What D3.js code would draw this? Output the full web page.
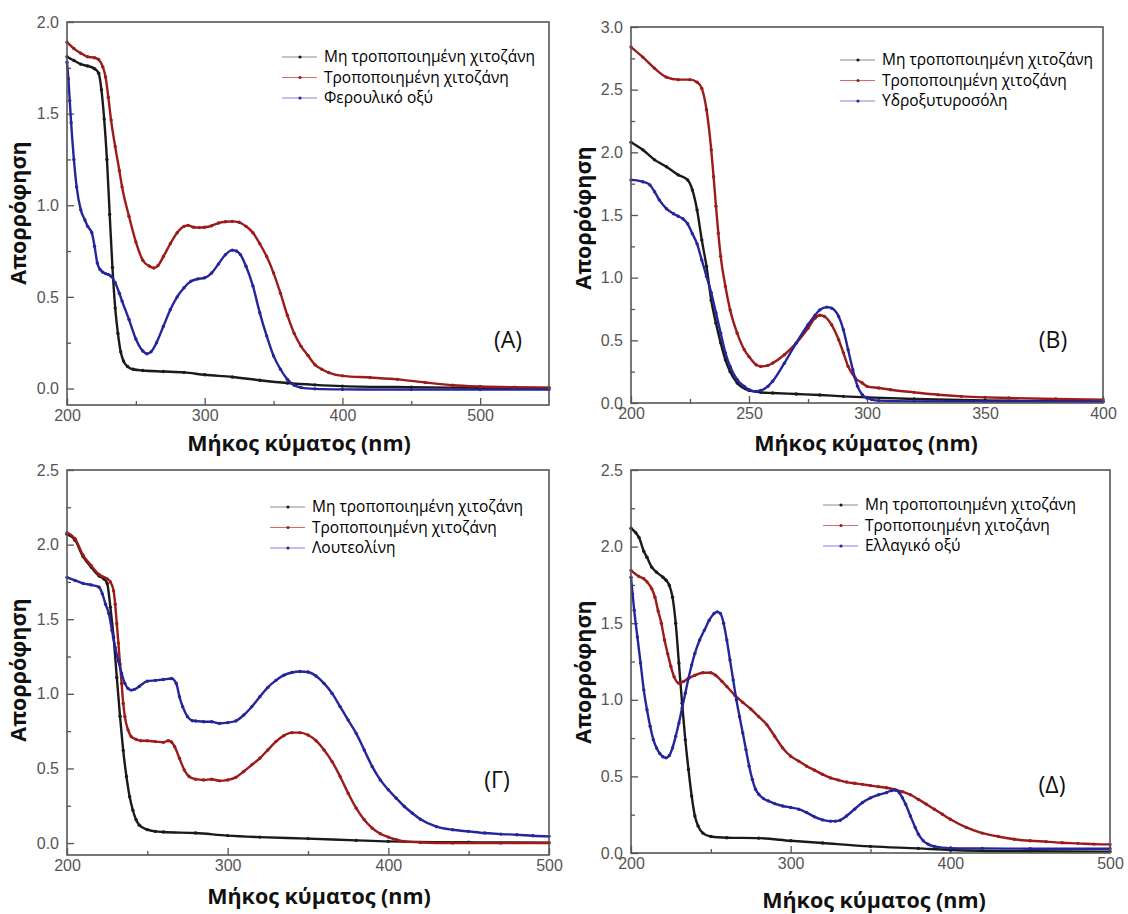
<!DOCTYPE html>
<html>
<head>
<meta charset="utf-8">
<script src="https://cdn.jsdelivr.net/npm/d3@7"></script>
<style>
  body { margin: 0; background: #fff; }
  svg text { font-family: "Liberation Sans", Arial, sans-serif; }
  .tick text { fill: #555; font-size: 16px; }
  .tick line { stroke: #555; stroke-width: 1.3; }
  .title { font-family: "Open Sans", sans-serif !important; font-weight: bold; font-size: 21.5px; fill: #111; }
  .legend text { font-family: "Open Sans", sans-serif !important; font-size: 15.5px; fill: #000; }
  .letter { font-family: "Open Sans", sans-serif !important; font-size: 23px; fill: #111; }
</style>
</head>
<body>
<div id="chart"></div>
<script>
// UV-Vis absorption spectra, 4 panels (A, B, Γ, Δ)
// each series is [wavelength nm, absorbance]

var seriesNames = ["Μη τροποποιημένη χιτοζάνη", "Τροποποιημένη χιτοζάνη"];
var compoundNames = ["Φερουλικό οξύ", "Υδροξυτυροσόλη", "Λουτεολίνη", "Ελλαγικό οξύ"];
var panelLetters = ["(A)", "(B)", "(Γ)", "(Δ)"];
var xTitle = "Μήκος κύματος (nm)";
var yTitle = "Απορρόφηση";

// Panel A
var aBlack = [[200,1.81],[205,1.79],[210,1.77],[215,1.76],[220,1.745],[223,1.72],[225,1.63],[227,1.47],[229,1.25],[231,0.95],[233,0.66],[235,0.44],[237,0.30],[239,0.20],[241,0.15],[244,0.12],[248,0.105],[255,0.098],[270,0.093],[285,0.088],[300,0.075],[320,0.063],[340,0.045],[360,0.03],[380,0.02],[400,0.013],[450,0.007],[500,0.004],[550,0.003]];
var aRed = [[200,1.89],[205,1.855],[210,1.83],[215,1.81],[220,1.805],[223,1.795],[226,1.755],[228,1.70],[230,1.59],[232,1.465],[235,1.32],[238,1.19],[240,1.10],[245,0.94],[250,0.80],[255,0.70],[260,0.667],[263,0.658],[266,0.67],[270,0.72],[275,0.79],[280,0.85],[285,0.885],[288,0.89],[292,0.88],[296,0.878],[300,0.88],[305,0.888],[310,0.903],[315,0.91],[320,0.912],[325,0.907],[330,0.885],[335,0.85],[340,0.79],[345,0.72],[350,0.63],[355,0.52],[360,0.40],[365,0.30],[370,0.23],[375,0.18],[380,0.13],[385,0.105],[390,0.087],[400,0.069],[420,0.06],[440,0.05],[460,0.033],[480,0.018],[500,0.011],[525,0.007],[550,0.005]];
var aBlue = [[200,1.78],[201,1.69],[202,1.57],[203,1.45],[205,1.25],[207,1.10],[210,0.975],[213,0.92],[215,0.885],[218,0.85],[220,0.776],[222,0.685],[224,0.65],[226,0.635],[228,0.627],[230,0.622],[232,0.613],[235,0.577],[238,0.52],[240,0.477],[245,0.377],[250,0.27],[255,0.205],[258,0.19],[261,0.20],[265,0.25],[270,0.34],[275,0.43],[280,0.50],[285,0.55],[290,0.585],[295,0.598],[300,0.604],[305,0.63],[310,0.68],[315,0.73],[320,0.755],[323,0.75],[326,0.73],[330,0.667],[335,0.56],[340,0.413],[345,0.287],[350,0.178],[355,0.105],[360,0.05],[365,0.018],[370,0.005],[380,-0.002],[400,-0.005],[450,-0.006],[500,-0.006],[550,-0.006]];

// Panel B
var bBlack = [[200,2.08],[205,2.02],[210,1.94],[215,1.885],[220,1.82],[224,1.78],[226,1.70],[228,1.54],[230,1.30],[232,1.09],[234,0.82],[236,0.637],[238,0.48],[240,0.345],[242,0.25],[245,0.16],[250,0.10],[255,0.085],[260,0.08],[270,0.072],[280,0.064],[290,0.053],[300,0.045],[320,0.032],[350,0.02],[375,0.016],[400,0.013]];
var bRed = [[200,2.84],[205,2.76],[210,2.67],[215,2.60],[220,2.58],[225,2.58],[228,2.56],[230,2.51],[232,2.34],[234,2.02],[235,1.805],[236,1.57],[237,1.355],[238,1.17],[240,0.93],[242,0.743],[245,0.557],[248,0.425],[250,0.37],[253,0.305],[255,0.292],[258,0.30],[260,0.318],[265,0.385],[270,0.478],[275,0.597],[278,0.677],[280,0.70],[282,0.69],[285,0.624],[288,0.505],[290,0.40],[292,0.292],[295,0.20],[298,0.16],[300,0.133],[305,0.12],[310,0.106],[320,0.085],[330,0.066],[340,0.053],[350,0.045],[360,0.04],[380,0.032],[400,0.027]];
var bBlue = [[200,1.78],[205,1.765],[208,1.74],[210,1.685],[212,1.62],[215,1.55],[218,1.51],[220,1.49],[222,1.47],[224,1.43],[226,1.35],[228,1.27],[230,1.14],[232,1.01],[234,0.88],[236,0.72],[238,0.557],[240,0.40],[242,0.292],[245,0.186],[248,0.133],[250,0.106],[253,0.093],[255,0.10],[258,0.133],[260,0.173],[265,0.318],[270,0.478],[275,0.624],[278,0.70],[280,0.743],[283,0.765],[285,0.757],[288,0.69],[290,0.584],[292,0.425],[294,0.265],[296,0.133],[298,0.066],[300,0.04],[302,0.027],[305,0.019],[320,0.013],[350,0.012],[400,0.011]];

// Panel Γ
var cBlack = [[200,2.07],[205,2.03],[210,1.92],[215,1.85],[220,1.79],[223,1.77],[225,1.74],[227,1.58],[229,1.38],[231,1.11],[233,0.85],[235,0.62],[237,0.446],[239,0.31],[241,0.22],[243,0.156],[245,0.12],[250,0.09],[255,0.078],[260,0.074],[280,0.067],[300,0.05],[320,0.04],[350,0.03],[380,0.018],[400,0.011],[450,0.005],[500,0.003]];
var cRed = [[200,2.08],[205,2.04],[210,1.93],[215,1.86],[220,1.80],[225,1.77],[227,1.75],[229,1.69],[230,1.60],[231,1.47],[232,1.34],[233,1.20],[234,1.07],[235,0.936],[236,0.847],[238,0.758],[240,0.713],[243,0.695],[246,0.686],[250,0.686],[255,0.68],[260,0.675],[263,0.686],[265,0.677],[267,0.646],[270,0.568],[273,0.49],[276,0.446],[280,0.428],[285,0.423],[290,0.428],[295,0.417],[300,0.423],[305,0.44],[310,0.48],[315,0.524],[320,0.568],[325,0.624],[330,0.68],[335,0.72],[340,0.74],[345,0.74],[350,0.724],[355,0.686],[360,0.624],[365,0.546],[370,0.446],[375,0.334],[380,0.234],[385,0.156],[390,0.10],[395,0.062],[400,0.04],[405,0.022],[410,0.011],[420,0.004],[440,0.0],[470,0.0],[500,0.0]];
var cBlue = [[200,1.78],[205,1.76],[210,1.74],[215,1.73],[220,1.715],[222,1.67],[224,1.60],[226,1.54],[228,1.425],[230,1.31],[232,1.22],[234,1.136],[236,1.07],[238,1.036],[240,1.025],[242,1.03],[245,1.05],[250,1.085],[255,1.09],[260,1.096],[265,1.103],[268,1.07],[270,0.98],[272,0.914],[275,0.847],[278,0.82],[280,0.818],[285,0.813],[290,0.813],[295,0.802],[300,0.807],[305,0.818],[310,0.858],[315,0.914],[320,0.98],[325,1.043],[330,1.09],[335,1.125],[340,1.143],[345,1.15],[350,1.146],[355,1.12],[360,1.07],[365,1.003],[370,0.914],[375,0.824],[380,0.735],[385,0.624],[390,0.512],[395,0.423],[400,0.357],[405,0.30],[410,0.245],[415,0.20],[420,0.16],[430,0.11],[440,0.089],[450,0.078],[460,0.067],[470,0.06],[480,0.056],[490,0.049],[500,0.045]];

// Panel Δ
var dBlack = [[200,2.12],[203,2.09],[205,2.06],[208,1.97],[210,1.93],[213,1.866],[216,1.833],[220,1.80],[222,1.78],[224,1.747],[226,1.67],[228,1.50],[230,1.24],[232,0.978],[234,0.74],[236,0.545],[238,0.372],[240,0.242],[242,0.177],[245,0.13],[250,0.108],[260,0.10],[280,0.097],[300,0.08],[320,0.065],[350,0.043],[380,0.03],[400,0.02],[450,0.011],[500,0.009]];
var dRed = [[200,1.845],[205,1.805],[208,1.79],[210,1.77],[213,1.725],[215,1.67],[217,1.58],[219,1.50],[221,1.39],[223,1.30],[225,1.217],[227,1.15],[230,1.108],[233,1.12],[236,1.14],[240,1.16],[245,1.177],[250,1.177],[253,1.16],[257,1.12],[260,1.087],[265,1.03],[270,0.983],[275,0.94],[280,0.89],[285,0.838],[290,0.762],[295,0.686],[300,0.632],[305,0.60],[310,0.567],[315,0.54],[320,0.513],[325,0.49],[330,0.476],[335,0.463],[340,0.455],[345,0.448],[350,0.44],[355,0.433],[360,0.426],[365,0.415],[370,0.40],[375,0.38],[380,0.35],[385,0.318],[390,0.286],[395,0.253],[400,0.22],[410,0.167],[420,0.13],[430,0.108],[440,0.09],[450,0.08],[460,0.074],[470,0.067],[480,0.063],[490,0.058],[500,0.056]];
var dBlue = [[200,1.80],[201,1.69],[202,1.585],[204,1.41],[206,1.24],[208,1.065],[210,0.935],[212,0.827],[214,0.74],[216,0.686],[218,0.65],[220,0.628],[222,0.621],[224,0.636],[226,0.686],[228,0.762],[230,0.848],[232,0.946],[234,1.043],[236,1.14],[238,1.227],[240,1.303],[243,1.39],[246,1.455],[249,1.52],[252,1.563],[254,1.574],[256,1.563],[258,1.50],[260,1.39],[262,1.26],[264,1.13],[266,1.00],[268,0.89],[270,0.784],[272,0.675],[274,0.567],[276,0.48],[278,0.416],[280,0.383],[283,0.355],[286,0.34],[290,0.322],[295,0.307],[300,0.297],[305,0.286],[310,0.264],[315,0.236],[320,0.216],[325,0.208],[328,0.208],[331,0.214],[335,0.242],[340,0.286],[345,0.33],[350,0.36],[355,0.38],[360,0.394],[363,0.407],[366,0.41],[368,0.394],[370,0.36],[372,0.318],[375,0.242],[378,0.167],[380,0.123],[383,0.08],[386,0.058],[390,0.043],[400,0.032],[420,0.03],[450,0.028],[500,0.028]];

// axis ticks
var xTicksA = [200, 300, 400, 500], xMinorA = [250, 350, 450];
var xTicksB = [200, 250, 300, 350, 400], xMinorB = [225, 275, 325, 375];
var xTicksC = [200, 300, 400, 500], xMinorC = [250, 350, 450];
var yTicksA = [0, 0.5, 1.0, 1.5, 2.0], yMinorA = [0.25, 0.75, 1.25, 1.75];
var yTicksB = [0, 0.5, 1.0, 1.5, 2.0, 2.5, 3.0], yMinorB = [0.25, 0.75, 1.25, 1.75, 2.25, 2.75];
var yTicksC = [0, 0.5, 1.0, 1.5, 2.0, 2.5], yMinorC = [0.25, 0.75, 1.25, 1.75, 2.25];

var colors = ["#1a1a1a", "#9c1b1b", "#25259c"];
var legendColors = ["#8c8c8c", "#d86c6c", "#8484d6"];

var svg = d3.select("#chart").append("svg")
  .attr("width", 1128)
  .attr("height", 914);

var panels = [
  {left: 67, top: 22, right: 549, bottom: 405, xDom: [200, 550], yDom: [-0.09, 2.0],
   xt: xTicksA, xm: xMinorA, yt: yTicksA, ym: yMinorA, data: [aBlack, aRed, aBlue], name: compoundNames[0],
   letter: panelLetters[0], letterPos: [508, 348], legendPos: [282, 57], xTitlePos: [299, 451], yTitlePos: [18, 213]},
  {left: 631, top: 27, right: 1103, bottom: 403, xDom: [200, 400], yDom: [0, 3.0],
   xt: xTicksB, xm: xMinorB, yt: yTicksB, ym: yMinorB, data: [bBlack, bRed, bBlue], name: compoundNames[1],
   letter: panelLetters[1], letterPos: [1053, 348], legendPos: [840, 60], xTitlePos: [866, 451], yTitlePos: [583, 218]},
  {left: 67, top: 470, right: 549, bottom: 855, xDom: [200, 500], yDom: [-0.08, 2.5],
   xt: xTicksC, xm: xMinorC, yt: yTicksC, ym: yMinorC, data: [cBlack, cRed, cBlue], name: compoundNames[2],
   letter: panelLetters[2], letterPos: [497, 788], legendPos: [270, 507], xTitlePos: [319, 904], yTitlePos: [18, 670]},
  {left: 631, top: 470, right: 1110, bottom: 853, xDom: [200, 500], yDom: [0, 2.5],
   xt: xTicksC, xm: xMinorC, yt: yTicksC, ym: yMinorC, data: [dBlack, dRed, dBlue], name: compoundNames[3],
   letter: panelLetters[3], letterPos: [1052, 793], legendPos: [823, 505], xTitlePos: [874, 908], yTitlePos: [583, 672]}
];

panels.forEach(drawPanel);

function drawPanel(p) {
  var w = p.right - p.left, h = p.bottom - p.top;
  var x = d3.scaleLinear().domain(p.xDom).range([0, w]);
  var y = d3.scaleLinear().domain(p.yDom).range([h, 0]);

  var g = svg.append("g").attr("transform", "translate(" + p.left + "," + p.top + ")");

  // inward ticks, left + bottom only
  g.append("g").attr("transform", "translate(0," + h + ")")
    .call(d3.axisBottom(x).tickValues(p.xt).tickSize(-7).tickPadding(5).tickFormat(d3.format("d")))
    .call(function(a) { a.select(".domain").remove(); });
  g.append("g").attr("transform", "translate(0," + h + ")")
    .call(d3.axisBottom(x).tickValues(p.xm).tickSize(-4).tickFormat(""))
    .call(function(a) { a.select(".domain").remove(); });
  g.append("g")
    .call(d3.axisLeft(y).tickValues(p.yt).tickSize(-7).tickPadding(8).tickFormat(d3.format(".1f")))
    .call(function(a) { a.select(".domain").remove(); });
  g.append("g")
    .call(d3.axisLeft(y).tickValues(p.ym).tickSize(-4).tickFormat(""))
    .call(function(a) { a.select(".domain").remove(); });

  g.selectAll(".tick text").attr("font-family", null);

  var plot = g.append("g");
  var line = d3.line()
    .x(function(d) { return x(d[0]); })
    .y(function(d) { return y(d[1]); })
    .curve(d3.curveMonotoneX);

  p.data.forEach(function(s, i) {
    plot.append("path")
      .attr("d", line(s))
      .attr("fill", "none")
      .attr("stroke", colors[i])
      .attr("stroke-width", 2.4);
    plot.selectAll(null)
      .data(s)
      .enter().append("circle")
      .attr("cx", function(d) { return x(d[0]); })
      .attr("cy", function(d) { return y(d[1]); })
      .attr("r", 1.7)
      .attr("fill", colors[i]);
  });

  // frame
  g.append("rect")
    .attr("width", w).attr("height", h)
    .attr("fill", "none")
    .attr("stroke", "#555")
    .attr("stroke-width", 1.6);

  // legend
  var names = seriesNames.concat([p.name]);
  var lg = svg.append("g").attr("class", "legend")
    .attr("transform", "translate(" + p.legendPos[0] + "," + p.legendPos[1] + ")");
  names.forEach(function(n, i) {
    var row = lg.append("g").attr("transform", "translate(0," + (i * 20.5) + ")");
    row.append("line").attr("x1", 0).attr("x2", 35).attr("y1", 0).attr("y2", 0)
      .attr("stroke", legendColors[i]).attr("stroke-width", 1.2);
    row.append("circle").attr("cx", 18).attr("cy", 0).attr("r", 1.6).attr("fill", colors[i]);
    row.append("text").attr("x", 42).attr("y", 0).attr("dy", "0.35em").text(n);
  });

  svg.append("text").attr("class", "letter")
    .attr("x", p.letterPos[0]).attr("y", p.letterPos[1])
    .attr("text-anchor", "middle")
    .text(p.letter);

  svg.append("text").attr("class", "title")
    .attr("x", p.xTitlePos[0]).attr("y", p.xTitlePos[1])
    .attr("text-anchor", "middle")
    .text(xTitle);

  svg.append("text").attr("class", "title")
    .attr("transform", "translate(" + p.yTitlePos[0] + "," + p.yTitlePos[1] + ") rotate(-90)")
    .attr("text-anchor", "middle")
    .attr("dy", "0.35em")
    .text(yTitle);
}
</script>
</body>
</html>
